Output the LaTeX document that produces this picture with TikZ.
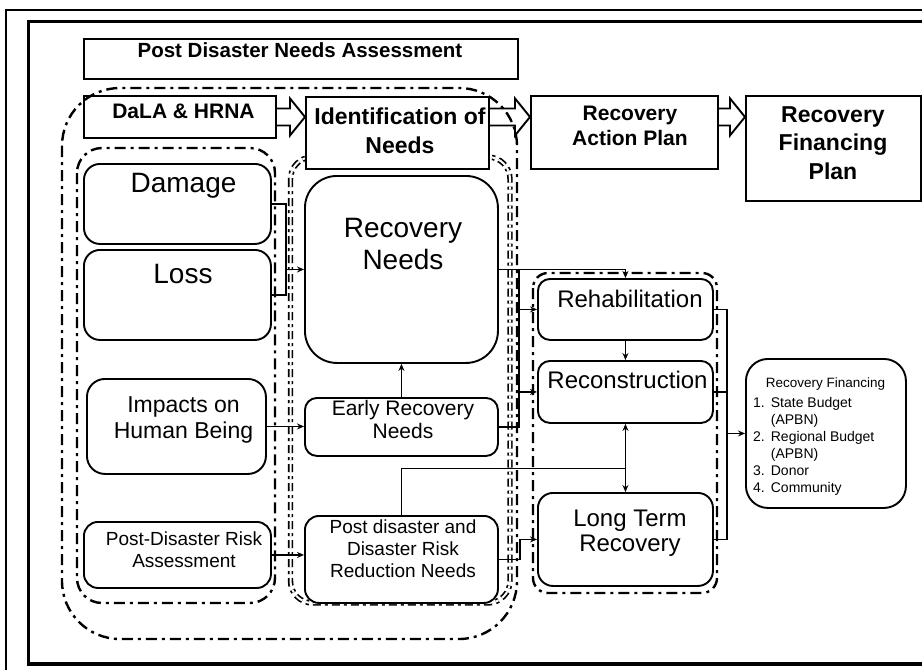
\documentclass[tikz,border=0pt]{standalone}
\usepackage{fontspec}
\setmainfont{Liberation Sans}
\usetikzlibrary{calc,arrows.meta}
\newcommand\myfs[2]{\fontsize{#1}{#2}\selectfont}
\newcommand\myblockarrow[2]{%
  \draw[barrow] ($(#1)+(0,-8.5)$) -- ($(#2)+(-15,-8.5)$) -- ($(#2)+(-15,-18.5)$) -- (#2)
    -- ($(#2)+(-15,18.5)$) -- ($(#2)+(-15,8.5)$) -- ($(#1)+(0,8.5)$);}
\begin{document}
\begin{tikzpicture}[x=1pt,y=-1pt,
  sq/.style={draw, line width=1.9pt, inner sep=0pt, anchor=north west},
  rbox/.style={draw, line width=1.9pt, inner sep=0pt, anchor=north west, rounded corners=#1, fill=white},
  rbox/.default=14pt,
  txt/.style={inner sep=0pt, align=center},
  grp/.style={line width=2.4pt, dash pattern=on 11pt off 5pt on 3pt off 5pt, rounded corners=#1},
  dgrp/.style={line width=1.7pt, double, double distance=2pt, dash pattern=on 8pt off 4pt on 3pt off 4pt, rounded corners=#1},
  conn/.style={line width=1.6pt},
  arr/.style={conn, -{Stealth[length=7pt,width=6pt]}},
  arr2/.style={conn, {Stealth[length=7pt,width=6pt]}-{Stealth[length=7pt,width=6pt]}},
  barrow/.style={draw, line width=1.9pt, line join=miter},
]
\useasboundingbox (0,0) rectangle (922,670);
\clip (0,0) rectangle (922,670);
\fill[white] (0,0) rectangle (922,670);
% frame
\draw[line width=1.3pt] (6,10) rectangle (940,690);
\draw[line width=3.2pt] (28.5,21.5) rectangle (940,664);
% groups
\draw[grp=58pt] (62,88) rectangle (517,639);
\draw[grp=25pt] (77,148) rectangle (275,603);
\draw[dgrp=22pt] (290.5,157) rectangle (510,603);
\draw[grp=15pt] (533,273) rectangle (717,593);
% boxes
\node[sq, minimum width=434pt, minimum height=40pt, fill=white] (pdna) at (83,38) {};
\node[sq, minimum width=192pt, minimum height=42pt] (dala) at (83,95) {};
\node[sq, minimum width=183pt, minimum height=72pt, fill=white] (ident) at (305,96) {};
\node[sq, minimum width=187pt, minimum height=73pt, fill=white] (rap) at (530,95) {};
\node[sq, minimum width=175pt, minimum height=105pt, fill=white] (rfp) at (745,95) {};
\node[rbox=16pt, minimum width=187pt, minimum height=80pt] (damage) at (83,163) {};
\node[rbox=16pt, minimum width=187pt, minimum height=90pt] (loss) at (83,249) {};
\node[rbox=18pt, minimum width=179pt, minimum height=95pt] (impacts) at (86,378) {};
\node[rbox=14pt, minimum width=187pt, minimum height=66pt] (pdra) at (83,521) {};
\node[rbox=32pt, minimum width=193pt, minimum height=187pt] (recneeds) at (304,175) {};
\node[rbox=12pt, minimum width=193pt, minimum height=58pt] (ern) at (304,397) {};
\node[rbox=14pt, minimum width=193pt, minimum height=87pt] (pddrr) at (304,515) {};
\node[rbox=12pt, minimum width=175pt, minimum height=61pt] (rehab) at (537,278) {};
\node[rbox=12pt, minimum width=175pt, minimum height=62pt] (recon) at (537,360) {};
\node[rbox=15pt, minimum width=175pt, minimum height=93pt] (ltr) at (537,492) {};
\node[rbox=22pt, minimum width=160pt, minimum height=149pt] (rf) at (745,358) {};
% block arrows
\coordinate (b1s) at (dala.east);
\coordinate (b1t) at (ident.west |- dala.east);
\coordinate (b2s) at (ident.east |- dala.east);
\coordinate (b2t) at (rap.west |- dala.east);
\coordinate (b3s) at (rap.east |- dala.east);
\coordinate (b3t) at (rfp.west |- dala.east);
\myblockarrow{b1s}{b1t}
\myblockarrow{b2s}{b2t}
\myblockarrow{b3s}{b3t}
% connectors
\coordinate (lb) at ($(recneeds.west)+(-18,0)$);
\draw[conn] (damage.east) -| (lb) |- (loss.east);
\draw[arr] (lb) -- (recneeds.west);
\draw[arr] (impacts.east) -- (impacts.east -| ern.west);
\draw[arr] (pdra.east) -- (pdra.east -| pddrr.west);
\draw[arr] (ern.north) -- (ern.north |- recneeds.south);
\coordinate (rb) at ($(recneeds.east)+(20,0)$);
\draw[arr] (recneeds.east) -| (rehab.north);
\draw[conn] (rb) |- (ern.east);
\draw[arr] (rb |- rehab.west) -- (rehab.west);
\draw[arr] (rb |- recon.west) -- (recon.west);
\draw[arr] (rehab.south) -- (recon.north);
\draw[arr2] (recon.south) -- (ltr.north);
\coordinate (jn) at ($(recon.south)!0.657!(ltr.north)$);
\draw[conn] (pddrr.north) |- (jn);
\coordinate (pb) at ($(pddrr.east)+(21,0)$);
\draw[arr] (pddrr.east) -- (pb) |- (ltr.west);
\coordinate (rfb) at ($(rf.west)+(-18,0)$);
\draw[conn] (rehab.east) -| (rfb) |- (ltr.east);
\draw[conn] (recon.east) -- (recon.east -| rfb);
\draw[arr] (rfb) -- (rf.west);
% texts
\node[txt, font=\myfs{20.5}{24}\bfseries] (pdnat) at (300,50) {Post Disaster Needs Assessment};
\node[txt, font=\myfs{21}{25}\bfseries] (dalat) at (183.5,111) {DaLA \& HRNA};
\node[txt, font=\myfs{23}{29}\bfseries] (identt) at (400,131) {Identification of\\Needs};
\node[txt, font=\myfs{21}{25}\bfseries] (rapt) at (630,126) {Recovery\\Action Plan};
\node[txt, font=\myfs{23}{28.5}\bfseries] (rfpt) at (833,143) {Recovery\\Financing\\Plan};
\node[txt, font=\myfs{28}{32}] (damaget) at (183.5,186) {Damage};
\node[txt, font=\myfs{28}{32}] (losst) at (183,274) {Loss};
\node[txt, font=\myfs{28}{32}] (recneedst) at (403,244) {Recovery\\Needs};
\node[txt, font=\myfs{23}{26.5}] (impactst) at (183.5,420) {Impacts on\\Human Being};
\node[txt, font=\myfs{21}{23}] (ernt) at (403,419) {Early Recovery\\Needs};
\node[txt, font=\myfs{19}{22}] (pdrat) at (184,549.5) {Post-Disaster Risk\\Assessment};
\node[txt, font=\myfs{19}{22}] (pddrrt) at (403,548.5) {Post disaster and\\Disaster Risk\\Reduction Needs};
\node[txt, font=\myfs{24}{28}] (rehabt) at (630,299) {Rehabilitation};
\node[txt, font=\myfs{24}{28}] (recont) at (627.5,380) {Reconstruction};
\node[txt, font=\myfs{24}{25}] (ltrt) at (630,533) {Long Term\\Recovery};
\node[txt, font=\myfs{13.5}{16}, anchor=base] (rft) at (825.5,387) {Recovery Financing};
\node[txt, anchor=north west, font=\myfs{14}{17}] (rfl) at (753,395) {\begin{tabular}{@{}l@{\hspace{6pt}}l@{}}1.&State Budget\\&(APBN)\\2.&Regional Budget\\&(APBN)\\3.&Donor\\4.&Community\end{tabular}};
\end{tikzpicture}
\end{document}
